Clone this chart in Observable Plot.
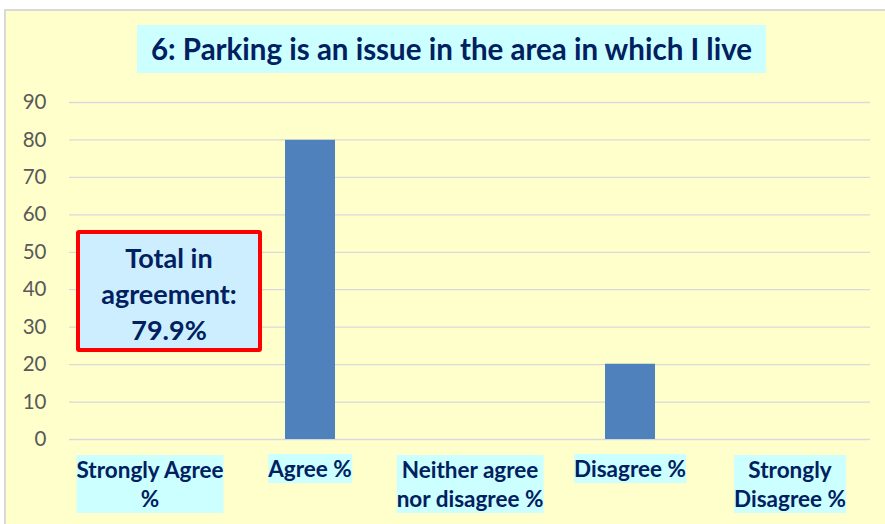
<!DOCTYPE html>
<html>
<head>
<meta charset="utf-8">
<script src="https://cdn.jsdelivr.net/npm/d3@7"></script>
<script src="https://cdn.jsdelivr.net/npm/@observablehq/plot@0.6"></script>
<style>
  html, body { margin:0; padding:0; background:#ffffff; width:885px; height:524px; overflow:hidden; }
  body { position:relative; font-family: Lato, "Open Sans", sans-serif; }
  #bg { position:absolute; left:4px; top:9px; width:900px; height:530px; background:#FFFFCC; border:2px solid #D9D9D9; box-sizing:border-box; }
  #chart { position:absolute; left:0; top:0; }
  #title { position:absolute; left:137px; top:25px; width:629px; height:48px; line-height:48px; background:#CCFFFF; color:#002060; font-weight:700; font-size:29.5px; text-align:center; white-space:nowrap; }
  .xl { position:absolute; top:455px; transform:translateX(-50%); background:#CCFFFF; color:#002060; font-weight:700; font-size:22.5px; line-height:29px; white-space:pre; text-align:center; }
  #note { position:absolute; left:76px; top:230px; width:186px; height:122px; box-sizing:border-box; border:4px solid #FF0000; border-radius:3px; background:#CCEEFF; color:#002060; font-weight:700; font-size:27px; line-height:36px; text-align:center; padding-top:6px; white-space:pre; }
</style>
</head>
<body>
<div id="bg"></div>
<div id="chart"></div>
<script>
const titleText = "6: Parking is an issue in the area in which I live";
const categories = ["Strongly Agree %", "Agree %", "Neither agree nor disagree %", "Disagree %", "Strongly Disagree %"];
const tickLabels = ["Strongly Agree\n%", "Agree %", "Neither agree\nnor disagree %", "Disagree %", "Strongly\nDisagree %"];
const values = [0, 79.9, 0, 20.1, 0];
const yTicks = [0, 10, 20, 30, 40, 50, 60, 70, 80, 90];
const noteLabel = "Total in\nagreement:";

const data = categories.map((c, i) => ({category: c, value: values[i]}));

const plot = Plot.plot({
  width: 885,
  height: 524,
  marginLeft: 69,
  marginRight: 15,
  marginTop: 102,
  marginBottom: 85,
  x: {domain: categories, paddingInner: 0.688, paddingOuter: 0.344, axis: null},
  y: {domain: [0, 90], axis: null, label: null},
  style: {background: "transparent", fontFamily: "Lato, 'Open Sans', sans-serif", fontSize: "20px", color: "#595959", overflow: "visible"},
  marks: [
    Plot.ruleY(yTicks, {stroke: "#D9D9D9", strokeWidth: 1.3}),
    Plot.barY(data, {x: "category", y: "value", fill: "#4F81BD"}),
    Plot.text(yTicks, {y: d => d, frameAnchor: "left", textAnchor: "end", dx: -23, fontSize: 20.5, fill: "#595959", text: d => String(d)})
  ]
});
document.getElementById("chart").appendChild(plot);

const title = document.createElement("div");
title.id = "title";
title.textContent = titleText;
document.body.appendChild(title);

const total = values[0] + values[1];
const note = document.createElement("div");
note.id = "note";
note.textContent = noteLabel + "\n" + total.toFixed(1) + "%";
document.body.appendChild(note);

const xs = plot.scale("x");
categories.forEach((c, i) => {
  const el = document.createElement("div");
  el.className = "xl";
  el.textContent = tickLabels[i];
  el.style.left = (xs.apply(c) + xs.bandwidth / 2) + "px";
  if (!tickLabels[i].includes("\n")) el.style.top = "454px";
  document.body.appendChild(el);
});
</script>
</body>
</html>
